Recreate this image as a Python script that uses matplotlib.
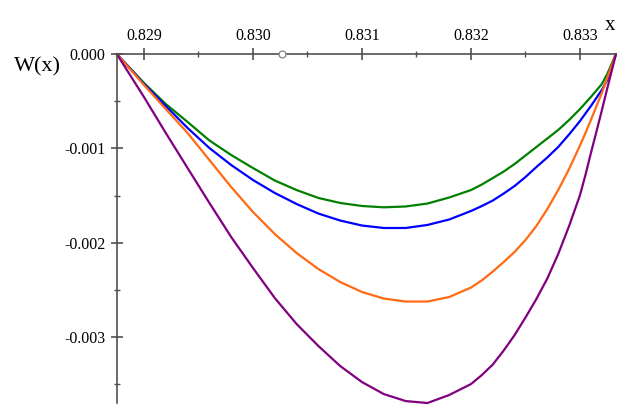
import matplotlib
matplotlib.use('Agg')
import matplotlib.pyplot as plt
from matplotlib.ticker import FixedLocator, FormatStrFormatter
import numpy as np

plt.rcParams['font.family'] = ['Liberation Serif', 'DejaVu Serif']
plt.rcParams['axes.unicode_minus'] = False

# sample points along x
x = [0.82875, 0.8290, 0.8292, 0.8294, 0.8296, 0.8298, 0.8300, 0.8302, 0.8304,
     0.8306, 0.8308, 0.8310, 0.8312, 0.8314, 0.8316, 0.8318, 0.8320, 0.8321,
     0.8322, 0.8323, 0.8324, 0.8325, 0.8326, 0.8327, 0.8328, 0.8329, 0.8330,
     0.83305, 0.8331, 0.83315, 0.8332, 0.83325, 0.83333]

# W(x) in units of 1e-3
w_green = [0, -0.307, -0.530, -0.720, -0.916, -1.070, -1.208, -1.340, -1.441,
           -1.525, -1.578, -1.610, -1.624, -1.615, -1.584, -1.520, -1.441, -1.382,
           -1.314, -1.245, -1.165, -1.075, -0.985, -0.895, -0.805, -0.699, -0.583,
           -0.519, -0.455, -0.387, -0.318, -0.212, 0]
w_blue = [0, -0.318, -0.551, -0.784, -0.996, -1.176, -1.335, -1.472, -1.589,
          -1.690, -1.764, -1.817, -1.843, -1.843, -1.811, -1.753, -1.663, -1.610,
          -1.552, -1.478, -1.398, -1.303, -1.197, -1.096, -0.985, -0.852, -0.710,
          -0.630, -0.551, -0.466, -0.381, -0.275, 0]
w_orange = [0, -0.328, -0.583, -0.837, -1.123, -1.409, -1.674, -1.907, -2.108,
            -2.278, -2.415, -2.521, -2.590, -2.622, -2.622, -2.574, -2.474, -2.397,
            -2.304, -2.203, -2.097, -1.970, -1.822, -1.642, -1.441, -1.218, -0.969,
            -0.837, -0.699, -0.556, -0.413, -0.254, 0]
w_purple = [0, -0.456, -0.837, -1.208, -1.578, -1.939, -2.267, -2.585, -2.860,
            -3.093, -3.305, -3.475, -3.602, -3.676, -3.697, -3.612, -3.496, -3.400,
            -3.289, -3.141, -2.977, -2.791, -2.595, -2.378, -2.119, -1.822, -1.494,
            -1.282, -1.049, -0.826, -0.599, -0.365, 0]

x_ticks = [0.829, 0.830, 0.831, 0.832, 0.833]
x_minor = [0.8295, 0.8305, 0.8315, 0.8325]
y_ticks = [0.0, -0.001, -0.002, -0.003]
y_minor = [-0.0005, -0.0015, -0.0025, -0.0035]
marker_x = 0.83027

fig = plt.figure(figsize=(6.28, 4.17), dpi=100)
ax = fig.add_axes([0, 0, 1, 1])

curves = [(w_green, '#008000'), (w_blue, '#0000ff'),
          (w_orange, '#ff6a13'), (w_purple, '#800080')]
for w, c in curves:
    ax.plot(x, np.array(w) * 1e-3, color=c, linewidth=1.6,
            solid_joinstyle='round', solid_capstyle='round')

ax.plot([marker_x], [0], marker='o', markersize=5, markerfacecolor='white',
        markeredgecolor='#777777', markeredgewidth=0.8, zorder=5)

ax.set_xlim(0.8276789, 0.8334404)
ax.set_ylim(-0.003845, 0.000572)
ax.patch.set_visible(False)

axis_col = '#505050'
for s in ['right', 'bottom']:
    ax.spines[s].set_visible(False)
ax.spines['top'].set_position(('data', 0))
ax.spines['top'].set_bounds(0.82875, 0.83333)
ax.spines['left'].set_position(('data', 0.82875))
ax.spines['left'].set_bounds(-0.0037, 0)
for s in ['top', 'left']:
    ax.spines[s].set_color(axis_col)
    ax.spines[s].set_linewidth(1.2)

ax.xaxis.set_ticks_position('top')
ax.xaxis.set_major_locator(FixedLocator(x_ticks))
ax.xaxis.set_minor_locator(FixedLocator(x_minor))
ax.yaxis.set_major_locator(FixedLocator(y_ticks))
ax.yaxis.set_minor_locator(FixedLocator(y_minor))
ax.xaxis.set_major_formatter(FormatStrFormatter('%.3f'))
ax.yaxis.set_major_formatter(FormatStrFormatter('%.3f'))
ax.tick_params(which='major', direction='inout', length=8, width=1.2,
               color=axis_col, labelsize=11.5, pad=3)
ax.tick_params(which='minor', direction='inout', length=4, width=1.0, color=axis_col)
ax.tick_params(axis='y', which='major', pad=4)

fig.text(37 / 628, 1 - 67 / 417, 'W(x)', fontsize=16, ha='center', va='center')
fig.text(610 / 628, 1 - 25 / 417, 'x', fontsize=15, ha='center', va='center')

fig.savefig('out.png', dpi=100)
